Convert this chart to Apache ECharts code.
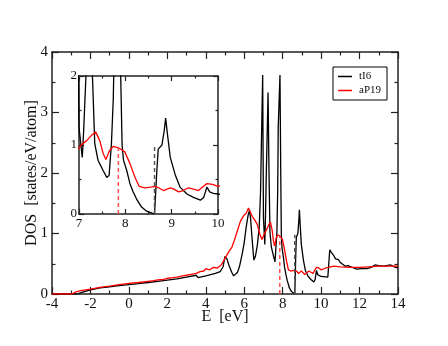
<!DOCTYPE html>
<html>
<head>
<meta charset="utf-8">
<script src="https://cdn.jsdelivr.net/npm/echarts@6/dist/echarts.min.js"></script>
<style>
  html, body { margin: 0; padding: 0; background: #fff; }
  #chart { width: 448px; height: 346px; }
</style>
</head>
<body>
<div id="chart"></div>
<script>
// DOS curves, [E (eV), DOS (states/eV/atom)]
const tI6 = [
  [-4, 0], [-2.7, 0], [-2.4, 0.03], [-2, 0.07], [-1.5, 0.1], [-1, 0.12], [-0.5, 0.14], [0, 0.155],
  [0.5, 0.17], [1, 0.19], [1.5, 0.21], [2, 0.23], [2.5, 0.25], [3, 0.28], [3.5, 0.31], [3.57, 0.33],
  [3.6, 0.27], [4, 0.30], [4.5, 0.34], [4.75, 0.37], [4.9, 0.45], [5.0, 0.62], [5.1, 0.58], [5.2, 0.48],
  [5.35, 0.36], [5.45, 0.30], [5.55, 0.29], [5.65, 0.36], [5.75, 0.45], [5.9, 0.67], [6.0, 0.85],
  [6.1, 1.1], [6.2, 1.3], [6.27, 1.38], [6.33, 1.25], [6.4, 0.95], [6.5, 0.56], [6.58, 0.62],
  [6.68, 0.8], [6.78, 1.1], [6.85, 1.7], [6.9, 2.6], [6.96, 3.62], [7.0, 1.26], [7.07, 0.82],
  [7.1, 1.2], [7.15, 2.0], [7.24, 3.33], [7.29, 2.0], [7.34, 1.02], [7.41, 0.78], [7.52, 0.63],
  [7.6, 0.53], [7.65, 0.56], [7.7, 1.02], [7.74, 1.67], [7.77, 2.77], [7.8, 2.8], [7.86, 3.62],
  [7.9, 2.0], [7.93, 1.0], [7.96, 0.78], [8.03, 0.63], [8.1, 0.44], [8.17, 0.32], [8.24, 0.22],
  [8.35, 0.1], [8.46, 0.04], [8.55, 0.02], [8.63, 0], [8.68, 0.63], [8.71, 0.94], [8.79, 1.0],
  [8.84, 1.21], [8.87, 1.39], [8.91, 1.15], [8.97, 0.82], [9.08, 0.56], [9.18, 0.39], [9.33, 0.29],
  [9.47, 0.24], [9.62, 0.2], [9.69, 0.24], [9.76, 0.39], [9.82, 0.32], [9.9, 0.30], [10.0, 0.29],
  [10.1, 0.28], [10.35, 0.28], [10.45, 0.73], [10.55, 0.68], [10.65, 0.64], [10.75, 0.58],
  [10.82, 0.56], [10.9, 0.57], [11.0, 0.52], [11.1, 0.50], [11.26, 0.46], [11.4, 0.47], [11.5, 0.44],
  [11.7, 0.43], [11.85, 0.41], [12.1, 0.42], [12.4, 0.42], [12.6, 0.44], [12.8, 0.48], [13.0, 0.47],
  [13.2, 0.46], [13.4, 0.47], [13.6, 0.48], [13.8, 0.45], [14, 0.43]
];

const aP19 = [
  [-4, 0], [-2.95, 0], [-2.8, 0.03], [-2.5, 0.055], [-2, 0.08], [-1.5, 0.11], [-1, 0.13], [-0.5, 0.155],
  [0, 0.175], [0.5, 0.19], [1, 0.21], [1.3, 0.22], [1.5, 0.235], [1.8, 0.24], [2, 0.26], [2.3, 0.27],
  [2.5, 0.28], [2.8, 0.30], [3, 0.31], [3.3, 0.33], [3.5, 0.34], [3.7, 0.37], [3.9, 0.38], [4.0, 0.42],
  [4.2, 0.40], [4.4, 0.44], [4.6, 0.43], [4.8, 0.48], [5.0, 0.59], [5.2, 0.70], [5.37, 0.78],
  [5.5, 0.9], [5.6, 1.0], [5.8, 1.2], [5.98, 1.3], [6.1, 1.33], [6.22, 1.42], [6.32, 1.35],
  [6.42, 1.28], [6.55, 1.22], [6.68, 1.15], [6.8, 1.0], [6.92, 0.9], [7.0, 0.96], [7.08, 1.02],
  [7.16, 1.06], [7.27, 1.14], [7.36, 1.19], [7.45, 1.06], [7.52, 0.88], [7.58, 0.79], [7.66, 0.92],
  [7.74, 0.98], [7.85, 0.96], [7.99, 0.9], [8.1, 0.73], [8.21, 0.53], [8.3, 0.40], [8.42, 0.38],
  [8.55, 0.39], [8.64, 0.40], [8.72, 0.38], [8.82, 0.34], [8.97, 0.38], [9.05, 0.36], [9.15, 0.32],
  [9.25, 0.34], [9.36, 0.38], [9.47, 0.36], [9.58, 0.34], [9.68, 0.40], [9.76, 0.44], [9.88, 0.43],
  [10.0, 0.40], [10.1, 0.42], [10.25, 0.43], [10.4, 0.44], [10.65, 0.46], [11, 0.45], [11.5, 0.44],
  [12, 0.44], [12.5, 0.45], [13, 0.46], [13.5, 0.46], [14, 0.46]
];

// vertical dashed markers
const dashRed = [[7.85, 0], [7.85, 0.96]];
const dashBlack = [[8.63, 0], [8.63, 0.98]];

const font = 'Liberation Serif';
const frame = '#222';

const chart = echarts.init(document.getElementById('chart'));

function xAxisOf(grid, min, max, interval, pos, show, size, tickLen) {
  return {
    type: 'value', gridIndex: grid, min: min, max: max, interval: interval, position: pos,
    axisLine: { show: true, onZero: false, lineStyle: { color: frame, width: 1.5 } },
    axisTick: { show: true, inside: true, length: tickLen, lineStyle: { color: frame, width: 1.2 } },
    minorTick: { show: true, splitNumber: 2, length: tickLen / 2, lineStyle: { color: frame, width: 1.2 } },
    axisLabel: { show: show, color: '#111', fontFamily: font, fontSize: size, margin: 3 },
    splitLine: { show: false }
  };
}

function yAxisOf(grid, min, max, interval, pos, show, size, tickLen, margin) {
  return {
    type: 'value', gridIndex: grid, min: min, max: max, interval: interval, position: pos,
    axisLine: { show: true, onZero: false, lineStyle: { color: frame, width: 1.5 } },
    axisTick: { show: true, inside: true, length: tickLen, lineStyle: { color: frame, width: 1.2 } },
    minorTick: { show: true, splitNumber: 2, length: tickLen / 2, lineStyle: { color: frame, width: 1.2 } },
    axisLabel: { show: show, color: '#111', fontFamily: font, fontSize: size, margin: margin },
    splitLine: { show: false }
  };
}

function curve(name, data, color, xi, yi) {
  return {
    name: name, type: 'line', data: data, xAxisIndex: xi, yAxisIndex: yi,
    symbol: 'none', clip: true, z: 3,
    lineStyle: { color: color, width: 1.3 }, itemStyle: { color: color }
  };
}

function dashed(data, color, xi, yi) {
  return {
    type: 'line', data: data, xAxisIndex: xi, yAxisIndex: yi, symbol: 'none', z: 4,
    lineStyle: { color: color, width: 1.5, type: [4, 3] }, silent: true
  };
}

const option = {
  animation: false,
  backgroundColor: '#fff',
  legend: {
    data: ['tI6', 'aP19'],
    orient: 'vertical',
    left: 333, top: 67,
    padding: [4, 6, 4, 5],
    itemGap: 3,
    icon: 'rect',
    itemWidth: 14, itemHeight: 1.5,
    borderColor: '#000', borderWidth: 1,
    textStyle: { fontFamily: font, fontSize: 11, color: '#111', padding: [0, 0, 0, 2] }
  },
  grid: [
    { left: 52, top: 52, width: 346, height: 242, show: false },
    { left: 79, top: 76, width: 139, height: 138, show: true, backgroundColor: '#fff', borderWidth: 0 }
  ],
  xAxis: [
    Object.assign(xAxisOf(0, -4, 14, 2, 'bottom', true, 15, 7), {
      name: 'E  [eV]', nameLocation: 'middle', nameGap: 15, nameMoveOverlap: false,
      nameTextStyle: { fontFamily: font, fontSize: 16, color: '#111' }
    }),
    xAxisOf(0, -4, 14, 2, 'top', false, 15, 7),
    xAxisOf(1, 7, 10, 1, 'bottom', true, 13, 5),
    xAxisOf(1, 7, 10, 1, 'top', false, 13, 5)
  ],
  yAxis: [
    Object.assign(yAxisOf(0, 0, 4, 1, 'left', true, 15, 7, 4), {
      name: 'DOS  [states/eV/atom]', nameLocation: 'middle', nameGap: 12, nameMoveOverlap: false,
      nameTextStyle: { fontFamily: font, fontSize: 16, color: '#111' }
    }),
    yAxisOf(0, 0, 4, 1, 'right', false, 15, 7, 4),
    yAxisOf(1, 0, 2, 1, 'left', true, 13, 5, 2),
    yAxisOf(1, 0, 2, 1, 'right', false, 13, 5, 2)
  ],
  series: [
    curve('tI6', tI6, '#000', 0, 0),
    curve('aP19', aP19, '#ff0000', 0, 0),
    dashed(dashRed, '#ff4d4d', 0, 0),
    dashed(dashBlack, '#555', 0, 0),
    curve('tI6', tI6, '#000', 2, 2),
    curve('aP19', aP19, '#ff0000', 2, 2),
    dashed(dashRed, '#ff4d4d', 2, 2),
    dashed(dashBlack, '#555', 2, 2)
  ]
};

chart.setOption(option);
</script>
</body>
</html>
